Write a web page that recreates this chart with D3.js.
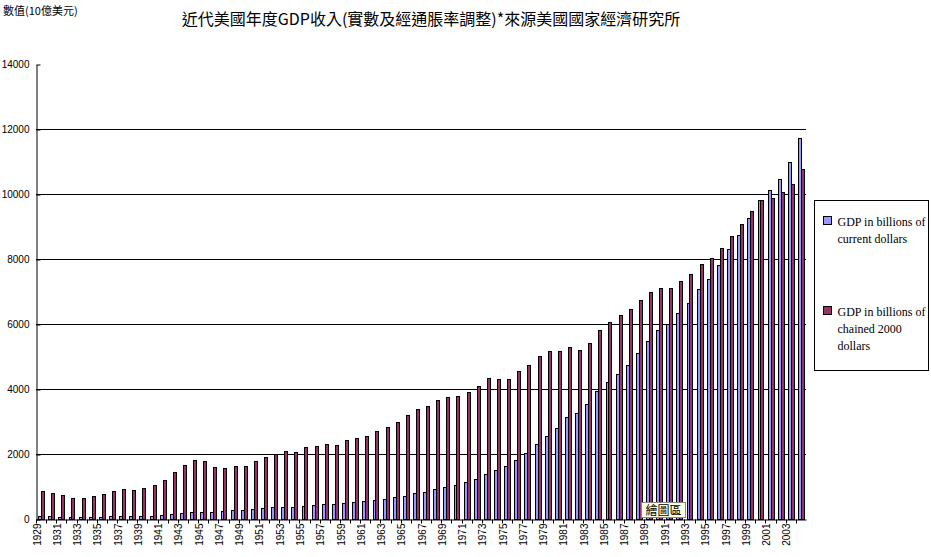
<!DOCTYPE html>
<html>
<head>
<meta charset="utf-8">
<script src="https://cdn.jsdelivr.net/npm/d3@7"></script>
<style>
body { margin: 0; background: #fff; }
</style>
</head>
<body>
<script>
const years = d3.range(1929, 2005)
// GDP in billions of current dollars
const current = [103.6, 91.2, 76.5, 58.7, 56.4, 66.0, 73.3, 83.8, 91.9, 86.1,
  92.2, 101.4, 126.7, 161.9, 198.6, 219.8, 223.0, 222.2, 244.1, 269.1,
  267.2, 293.7, 339.3, 358.3, 379.4, 380.4, 414.8, 437.5, 461.1, 467.2,
  506.6, 526.4, 544.7, 585.6, 617.7, 663.6, 719.1, 787.8, 832.6, 910.0,
  984.6, 1038.5, 1127.1, 1238.3, 1382.7, 1500.0, 1638.3, 1825.3, 2030.9, 2294.7,
  2563.3, 2789.5, 3128.4, 3255.0, 3536.7, 3933.2, 4220.3, 4462.8, 4739.5, 5103.8,
  5484.4, 5803.1, 5995.9, 6337.7, 6657.4, 7072.2, 7397.7, 7816.9, 8304.3, 8747.0,
  9268.4, 9817.0, 10128.0, 10469.6, 10971.2, 11734.3]
// GDP in billions of chained 2000 dollars
const chained = [865.2, 790.7, 739.9, 643.7, 635.5, 704.2, 766.9, 866.6, 911.1, 879.7,
  950.7, 1034.1, 1211.1, 1435.4, 1670.9, 1806.5, 1786.3, 1589.4, 1574.5, 1643.2,
  1634.6, 1777.3, 1915.0, 1988.3, 2079.5, 2065.4, 2212.8, 2255.8, 2301.1, 2279.2,
  2441.3, 2501.8, 2560.0, 2715.2, 2834.0, 2998.6, 3191.1, 3399.1, 3484.6, 3652.7,
  3765.4, 3771.9, 3898.6, 4105.0, 4341.5, 4319.6, 4311.2, 4540.9, 4750.5, 5015.0,
  5173.4, 5161.7, 5291.7, 5189.3, 5423.8, 5813.6, 6053.7, 6263.6, 6475.1, 6742.7,
  6981.4, 7112.5, 7100.5, 7336.6, 7532.7, 7835.5, 8031.7, 8328.9, 8703.5, 9066.9,
  9470.3, 9817.0, 9890.7, 10048.8, 10301.0, 10755.7]
const seriesNames = ['GDP in billions of current dollars', 'GDP in billions of chained 2000 dollars']
const yTicks = [0, 2000, 4000, 6000, 8000, 10000, 12000, 14000]

const m = { width: 931, height: 557, left: 36, right: 806, top: 64, bottom: 519 }
const colors = ['#9999ff', '#993366']

const svg = d3.select('body').append('svg')
  .attr('width', m.width)
  .attr('height', m.height)
  .style('font-family', 'Liberation Sans, Arial, sans-serif')

const x = d3.scaleBand().domain(years).range([m.left, m.right])
const inner = d3.scaleBand().domain([0, 1]).range([0, x.bandwidth()]).paddingInner(0).paddingOuter(0.75)
const y = d3.scaleLinear().domain([0, 14000]).range([m.bottom, m.top])

// gridlines
svg.append('g')
  .selectAll('line')
  .data(yTicks.filter(d => d > 0 && d < 14000))
  .enter()
  .append('line')
    .attr('x1', m.left).attr('x2', m.right)
    .attr('y1', d => Math.round(y(d)) + 0.5).attr('y2', d => Math.round(y(d)) + 0.5)
    .attr('stroke', 'black')

// bars
const series = [current, chained]
series.forEach(function(vals, i) {
  svg.append('g')
    .selectAll('rect')
    .data(vals)
    .enter()
    .append('rect')
      .attr('x', (d, j) => Math.round(x(years[j]) + inner(i)) + 0.5)
      .attr('y', d => Math.round(y(d)) + 0.5)
      .attr('width', Math.round(inner.bandwidth()))
      .attr('height', d => Math.round(y(0)) - Math.round(y(d)))
      .attr('fill', colors[i])
      .attr('stroke', 'black')
      .attr('stroke-width', 1)
})

// y axis
const yAxis = svg.append('g')
  .attr('transform', `translate(${m.left + 0.5},0.5)`)
  .call(d3.axisLeft(y).tickValues(yTicks).tickFormat(d3.format('d')).tickSize(0).tickPadding(7))
yAxis.select('.domain').attr('stroke', 'black')
yAxis.selectAll('text').attr('font-size', 10).attr('fill', 'black')
yAxis.selectAll('.tick').append('line').attr('x2', 4).attr('stroke', 'black')

// x axis
const xAxis = svg.append('g')
  .attr('transform', `translate(0,${Math.round(y(0)) + 0.5})`)
  .call(d3.axisBottom(x).tickValues(years.filter(d => (d - 1929) % 2 === 0)).tickSize(0))
xAxis.select('.domain').attr('stroke', 'black')
xAxis.selectAll('text')
  .attr('font-size', 10)
  .attr('fill', 'black')
  .attr('text-anchor', 'end')
  .attr('transform', 'rotate(-90)')
  .attr('x', -4)
  .attr('y', -4)
  .attr('dy', '0.35em')
xAxis.append('g')
  .selectAll('line')
  .data(years)
  .enter()
  .append('line')
    .attr('x1', d => Math.round(x(d)) + 0.5).attr('x2', d => Math.round(x(d)) + 0.5)
    .attr('y1', 0).attr('y2', 4)
    .attr('stroke', 'black')

// titles
svg.append('text')
  .attr('x', 3).attr('y', 15)
  .attr('font-size', 11)
  .attr('font-family', 'Noto Sans CJK TC')
  .text('數值(10億美元)')
svg.append('text')
  .attr('x', 431).attr('y', 25)
  .attr('text-anchor', 'middle')
  .attr('font-size', 16)
  .attr('font-family', 'Noto Sans CJK TC')
  .text('近代美國年度GDP收入(實數及經通脹率調整)*來源美國國家經濟研究所')

// legend
const legend = svg.append('g').attr('transform', 'translate(814.5,200.5)')
legend.append('rect')
  .attr('width', 114).attr('height', 170)
  .attr('fill', 'white').attr('stroke', 'black')
const legendLines = [['GDP in billions of', 'current dollars'], ['GDP in billions of', 'chained 2000', 'dollars']]
legendLines.forEach(function(lines, i) {
  const g = legend.append('g').attr('transform', `translate(0,${i === 0 ? 16 : 106})`)
  g.append('rect')
    .attr('x', 9).attr('y', 0)
    .attr('width', 8).attr('height', 8)
    .attr('fill', colors[i]).attr('stroke', 'black')
  g.selectAll('text')
    .data(lines)
    .enter()
    .append('text')
      .attr('x', 23)
      .attr('y', (d, k) => 9 + k * 17)
      .attr('font-size', 12)
      .attr('font-family', 'Liberation Serif, serif')
      .text(d => d)
})

// plot area tooltip
const tip = svg.append('g').attr('transform', 'translate(641.5,502.5)')
tip.append('rect')
  .attr('width', 44).attr('height', 15)
  .attr('fill', '#ffffe1').attr('stroke', '#888')
tip.append('text')
  .attr('x', 22).attr('y', 12)
  .attr('text-anchor', 'middle')
  .attr('font-size', 12)
  .attr('font-family', 'Noto Sans CJK TC')
  .text('繪圖區')
</script>
</body>
</html>
